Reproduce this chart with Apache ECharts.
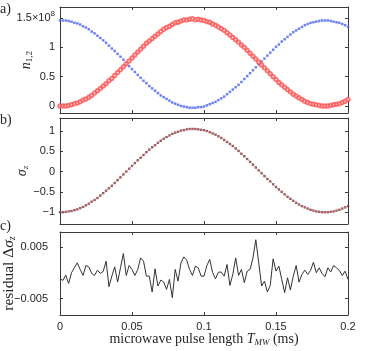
<!DOCTYPE html>
<html>
<head>
<meta charset="utf-8">
<script src="https://cdn.jsdelivr.net/npm/echarts@6/dist/echarts.min.js"></script>
<style>
  html, body { margin: 0; padding: 0; background: #fff; }
  #chart { width: 374px; height: 351px; }
</style>
</head>
<body>
<div id="chart"></div>
<script>
// time step of the measurement (ms)
var tStep = 0.002;
var xTicks = [0, 0.05, 0.1, 0.15, 0.2];

// a) populations n1 (red circles), n2 (blue dots), units of 1e8
var n1 = [0.00,0.00,0.00,0.01,0.02,0.04,0.05,0.07,0.10,0.12,
  0.15,0.18,0.22,0.26,0.30,0.34,0.38,0.43,0.47,0.52,
  0.57,0.62,0.67,0.72,0.77,0.82,0.87,0.92,0.97,1.02,
  1.07,1.11,1.15,1.19,1.23,1.27,1.31,1.34,1.36,1.39,
  1.42,1.43,1.45,1.47,1.47,1.48,1.49,1.47,1.48,1.47,
  1.46,1.44,1.43,1.40,1.38,1.35,1.32,1.29,1.25,1.21,
  1.17,1.13,1.09,1.04,1.00,0.95,0.90,0.85,0.80,0.75,
  0.70,0.65,0.60,0.55,0.50,0.45,0.40,0.36,0.32,0.28,
  0.24,0.20,0.17,0.14,0.11,0.08,0.06,0.04,0.03,0.02,
  0.01,0.00,0.00,0.00,0.01,0.02,0.03,0.04,0.06,0.08,
  0.11];
var n2 = [1.46,1.46,1.46,1.45,1.44,1.42,1.41,1.39,1.36,1.34,
  1.31,1.27,1.24,1.20,1.16,1.12,1.08,1.03,0.98,0.94,
  0.89,0.84,0.79,0.73,0.68,0.63,0.58,0.53,0.48,0.43,
  0.39,0.34,0.30,0.26,0.22,0.18,0.15,0.12,0.09,0.06,
  0.04,0.02,0.00,-0.01,-0.02,-0.03,-0.03,-0.03,-0.02,-0.02,
  -0.01,0.01,0.03,0.05,0.07,0.10,0.13,0.16,0.20,0.24,
  0.28,0.32,0.36,0.41,0.46,0.51,0.56,0.61,0.66,0.71,
  0.76,0.81,0.86,0.91,0.96,1.01,1.05,1.10,1.14,1.18,
  1.22,1.26,1.29,1.32,1.35,1.38,1.40,1.42,1.43,1.44,
  1.45,1.46,1.46,1.46,1.45,1.44,1.43,1.42,1.40,1.38,
  1.35];
var aTicks = [0, 0.5, 1, 1.5];

// b) sigma_z
var sigmaZ = [-1.00,-1.00,-0.99,-0.98,-0.97,-0.95,-0.93,-0.90,-0.87,-0.83,
  -0.79,-0.74,-0.70,-0.65,-0.59,-0.53,-0.47,-0.41,-0.35,-0.28,
  -0.21,-0.14,-0.07,0.00,0.07,0.14,0.21,0.28,0.34,0.41,
  0.48,0.54,0.60,0.65,0.71,0.76,0.81,0.85,0.89,0.93,
  0.96,0.98,1.01,1.02,1.04,1.05,1.05,1.05,1.04,1.03,
  1.02,1.00,0.97,0.94,0.91,0.87,0.83,0.78,0.73,0.68,
  0.63,0.57,0.51,0.44,0.38,0.31,0.24,0.17,0.10,0.03,
  -0.04,-0.11,-0.18,-0.24,-0.31,-0.38,-0.44,-0.50,-0.56,-0.62,
  -0.67,-0.72,-0.77,-0.81,-0.85,-0.88,-0.91,-0.94,-0.96,-0.98,
  -0.99,-1.00,-1.00,-1.00,-0.99,-0.98,-0.96,-0.94,-0.91,-0.88,
  -0.85];
var bTicks = [-1, -0.5, 0, 0.5, 1];

// c) residual
var residual = [-0.00117,-0.00149,-0.00046,-0.00207,0.00000,0.00095,0.00192,0.00063,-0.00053,0.00140,
  0.00114,-0.00014,-0.00053,0.00050,-0.00014,0.00024,0.00224,-0.00271,-0.00066,0.00114,
  -0.00181,0.00095,0.00372,-0.00053,0.00140,0.00063,-0.00053,0.00063,0.00288,0.00224,
  -0.00066,-0.00066,-0.00374,0.00076,-0.00258,-0.00143,-0.00181,-0.00323,-0.00130,-0.00484,
  0.00063,-0.00162,0.00192,0.00307,0.00243,0.00063,-0.00053,0.00127,0.00095,-0.00066,
  -0.00066,0.00140,0.00256,0.00000,-0.00117,0.00012,0.00012,-0.00066,0.00159,-0.00246,
  -0.00033,0.00288,-0.00053,0.00063,-0.00194,0.00031,0.00063,0.00288,0.00640,0.00192,
  -0.00258,-0.00162,-0.00374,-0.00246,0.00269,0.00031,0.00127,-0.00130,-0.00387,-0.00098,
  -0.00336,-0.00066,0.00140,-0.00181,-0.00033,0.00050,-0.00033,0.00044,0.00204,0.00000,
  0.00095,-0.00014,-0.00078,0.00095,0.00012,0.00140,0.00095,0.00044,-0.00053,0.00031,
  -0.00130];
var cTicks = [-0.005, 0.005];

var times = n1.map(function (v, i) { return +(i * tStep).toFixed(3); });
function pairs(ys) {
  return ys.map(function (y, i) { return [times[i], y]; });
}

var axisColor = '#3a3a3a';
var textColor = '#262626';
var sans = 'Liberation Sans, Arial, sans-serif';
var serif = 'Liberation Serif, Times New Roman, serif';

function minus(s) { return String(s).replace('-', '\u2212'); }

function xAxisFor(grid, pos, showLabel) {
  return {
    type: 'value', gridIndex: grid, position: pos, min: 0, max: 0.2, interval: 0.05,
    nameMoveOverlap: false,
    axisLine: { show: true, onZero: false, lineStyle: { color: axisColor, width: 1 } },
    axisTick: { show: true, inside: true, length: 3, customValues: xTicks, lineStyle: { color: axisColor } },
    splitLine: { show: false },
    axisLabel: { show: showLabel, customValues: xTicks, color: textColor, fontFamily: sans, fontSize: 11, margin: 6,
      formatter: function (v) { return String(v); } }
  };
}
function yAxisFor(grid, pos, min, max, ticks, showLabel, margin, fmt) {
  return {
    type: 'value', gridIndex: grid, position: pos, min: min, max: max,
    nameMoveOverlap: false,
    axisLine: { show: true, onZero: false, lineStyle: { color: axisColor, width: 1 } },
    axisTick: { show: true, inside: true, length: 3, customValues: ticks, lineStyle: { color: axisColor } },
    splitLine: { show: false },
    axisLabel: { show: showLabel, customValues: ticks, color: textColor, fontFamily: sans, fontSize: 11,
      margin: margin, formatter: fmt,
      rich: { sup: { fontSize: 8, fontFamily: sans, color: textColor, verticalAlign: 'top', padding: [0, 0, 8, 0] } } }
  };
}

var yA = yAxisFor(0, 'left', -0.12, 1.69, aTicks, true, 5, function (v) {
  return v === 1.5 ? '1.5\u00d710{sup|8}' : String(v);
});
yA.name = '{i|n}{s|1,2}';
yA.nameLocation = 'middle';
yA.nameGap = 26;
yA.nameRotate = 90;
yA.nameTextStyle = { color: textColor, rich: {
  i: { fontFamily: serif, fontStyle: 'italic', fontSize: 14, color: textColor },
  s: { fontFamily: serif, fontSize: 9, color: textColor, padding: [6, 0, 0, 0] } } };

var yB = yAxisFor(1, 'left', -1.29, 1.32, bTicks, true, 5, function (v) { return minus(v); });
yB.name = '{i|\u03c3}{s|z}';
yB.nameLocation = 'middle';
yB.nameGap = 30;
yB.nameRotate = 90;
yB.nameTextStyle = { color: textColor, rich: {
  i: { fontFamily: serif, fontStyle: 'italic', fontSize: 14, color: textColor },
  s: { fontFamily: serif, fontStyle: 'italic', fontSize: 9, color: textColor, padding: [6, 0, 0, 0] } } };

var yC = yAxisFor(2, 'left', -0.0082, 0.0079, cTicks, true, 12, function (v) { return minus(v); });
yC.name = '{t|residual \u0394}{i|\u03c3}{s|z}';
yC.nameLocation = 'middle';
yC.nameGap = 43;
yC.nameRotate = 90;
yC.nameTextStyle = { color: textColor, rich: {
  t: { fontFamily: serif, fontSize: 15.5, color: textColor },
  i: { fontFamily: serif, fontStyle: 'italic', fontSize: 15.5, color: textColor },
  s: { fontFamily: serif, fontStyle: 'italic', fontSize: 10, color: textColor, padding: [7, 0, 0, 0] } } };

var xC = xAxisFor(2, 'bottom', true);
xC.name = '{t|microwave pulse length }{i|T}{s|MW}{t| (ms)}';
xC.nameLocation = 'middle';
xC.nameGap = 17;
xC.nameTextStyle = { color: textColor, rich: {
  t: { fontFamily: serif, fontSize: 14, color: textColor },
  i: { fontFamily: serif, fontStyle: 'italic', fontSize: 14, color: textColor },
  s: { fontFamily: serif, fontStyle: 'italic', fontSize: 9, color: textColor, padding: [6, 0, 0, 0] } } };

var option = {
  animation: false,
  backgroundColor: '#fff',
  grid: [
    { left: 60, top: 7, width: 288, height: 106, containLabel: false, outerBoundsMode: 'none' },
    { left: 60, top: 118, width: 288, height: 106, containLabel: false, outerBoundsMode: 'none' },
    { left: 60, top: 232, width: 288, height: 83, containLabel: false, outerBoundsMode: 'none' }
  ],
  xAxis: [
    xAxisFor(0, 'bottom', false), xAxisFor(0, 'top', false),
    xAxisFor(1, 'bottom', false), xAxisFor(1, 'top', false),
    xC, xAxisFor(2, 'top', false)
  ],
  yAxis: [
    yA, yAxisFor(0, 'right', -0.12, 1.69, aTicks, false, 0),
    yB, yAxisFor(1, 'right', -1.29, 1.32, bTicks, false, 0),
    yC, yAxisFor(2, 'right', -0.0082, 0.0079, cTicks, false, 0)
  ],
  graphic: [
    { type: 'text', left: 0, top: 2, style: { text: 'a)', font: '14px ' + serif, fill: textColor } },
    { type: 'text', left: 0, top: 113, style: { text: 'b)', font: '14px ' + serif, fill: textColor } },
    { type: 'text', left: 0, top: 219, style: { text: 'c)', font: '14px ' + serif, fill: textColor } }
  ],
  series: [
    { type: 'scatter', xAxisIndex: 0, yAxisIndex: 0, data: pairs(n2), symbol: 'rect', symbolSize: 2.5,
      itemStyle: { color: '#4a64f0' } },
    { type: 'scatter', xAxisIndex: 0, yAxisIndex: 0, data: pairs(n1), symbol: 'emptyCircle', symbolSize: 3.5,
      itemStyle: { color: '#ff5050', borderWidth: 0.7 } },
    { type: 'line', xAxisIndex: 2, yAxisIndex: 2, data: pairs(sigmaZ), showSymbol: false,
      lineStyle: { color: '#ff6a6a', width: 0.8 } },
    { type: 'scatter', xAxisIndex: 2, yAxisIndex: 2, data: pairs(sigmaZ), symbol: 'rect', symbolSize: 2.3,
      itemStyle: { color: '#3d2f33' } },
    { type: 'line', xAxisIndex: 4, yAxisIndex: 4, data: pairs(residual), showSymbol: false,
      lineStyle: { color: '#333', width: 1 } }
  ]
};

var myChart = echarts.init(document.getElementById('chart'));
myChart.setOption(option);
</script>
</body>
</html>
